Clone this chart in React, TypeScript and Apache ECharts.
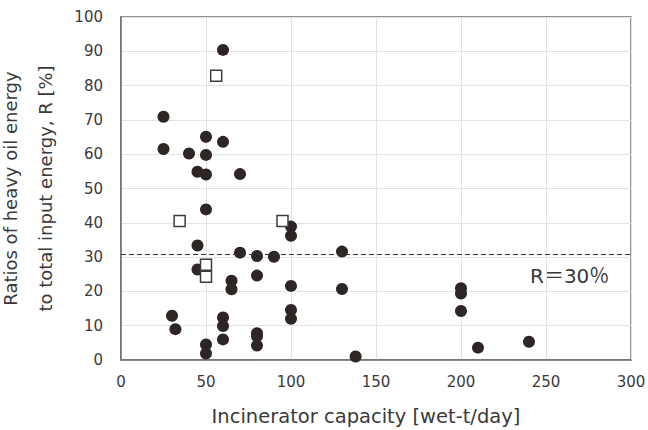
import React, { useEffect, useRef } from "react";
import * as echarts from "echarts";

const circleX = [60, 25, 25, 40, 50, 60, 45, 50, 50, 70, 50, 45, 45, 70, 80, 90, 100, 100, 65, 65, 80, 100, 130, 130, 30, 32, 60, 60, 60, 80, 80, 80, 50, 50, 100, 100, 138, 200, 200, 200, 210, 240];
const circleY = [90.4, 70.9, 61.5, 60.2, 65.1, 63.6, 54.9, 59.8, 54.1, 54.2, 43.9, 33.4, 26.4, 31.3, 30.3, 30.1, 38.9, 36.2, 23.1, 20.6, 24.6, 21.6, 31.6, 20.7, 12.9, 9.0, 12.4, 9.9, 6.0, 7.8, 6.9, 4.2, 4.5, 1.9, 14.6, 12.0, 1.0, 20.9, 19.4, 14.3, 3.6, 5.3];
const squareX = [56, 34.5, 95, 50, 50];
const squareY = [82.9, 40.5, 40.5, 27.8, 24.3];
const thresholdR = 30.9;
const xTicks = { min: 0, max: 300, interval: 50 };
const yTicks = { min: 0, max: 100, interval: 10 };

const FONT = "DejaVu Sans, Noto Sans CJK JP";

export default function App() {
  const ref = useRef<HTMLDivElement>(null);
  useEffect(() => {
    const chart = echarts.init(ref.current!, undefined, { renderer: "svg" });
    chart.setOption({
      animation: false,
      textStyle: { fontFamily: FONT },
      grid: {
        left: 121,
        right: 17,
        top: 17,
        bottom: 70,
        containLabel: false,
        outerBoundsMode: "none",
        show: true,
        borderColor: "#6e6e6e",
        borderWidth: 1.5,
        backgroundColor: "transparent",
      },
      xAxis: {
        type: "value",
        ...xTicks,
        name: "Incinerator capacity [wet-t/day]",
        nameLocation: "middle",
        nameGap: 47,
        nameTextStyle: { fontSize: 19.5, color: "#3a3a3a", fontFamily: FONT, padding: [0, 20, 0, 0] },
        axisLine: { show: true, lineStyle: { color: "#6e6e6e", width: 1.5 } },
        axisTick: { show: false },
        axisLabel: { fontSize: 15, color: "#3a3a3a", margin: 14, fontFamily: FONT },
        splitLine: { show: true, lineStyle: { color: "#e3e3e3", width: 1 } },
      },
      yAxis: {
        type: "value",
        ...yTicks,
        name: "Ratios of heavy oil energy\nto total input energy, R [%]",
        nameLocation: "middle",
        nameGap: 55,
        nameTextStyle: { fontSize: 18, color: "#3a3a3a", lineHeight: 35, fontFamily: FONT },
        axisLine: { show: true, lineStyle: { color: "#6e6e6e", width: 1.5 } },
        axisTick: { show: false },
        axisLabel: { fontSize: 15, color: "#3a3a3a", margin: 18, fontFamily: FONT },
        splitLine: { show: true, lineStyle: { color: "#e3e3e3", width: 1 } },
      },
      series: [
        {
          type: "scatter",
          symbol: "circle",
          symbolSize: 12,
          itemStyle: { color: "#2d2624", opacity: 1 },
          data: circleX.map((x, i) => [x, circleY[i]]),
          markLine: {
            silent: true,
            symbol: "none",
            label: { show: false },
            lineStyle: { type: [5, 3], color: "#333", width: 1.2 },
            data: [{ yAxis: thresholdR }],
          },
          z: 3,
        },
        {
          type: "scatter",
          symbol: "rect",
          symbolSize: 11,
          itemStyle: { color: "#ffffff", borderColor: "#3d3d3d", borderWidth: 1.5, opacity: 1 },
          data: squareX.map((x, i) => [x, squareY[i]]),
          z: 4,
        },
      ],
      graphic: [
        {
          type: "text",
          left: 530,
          top: 266,
          style: { text: "R＝30％", fontSize: 20, fill: "#3a3a3a", fontFamily: FONT },
        },
      ],
    });
    return () => chart.dispose();
  }, []);
  return <div ref={ref} style={{ width: 648, height: 430, position: "absolute", left: 0, top: 0 }} />;
}
